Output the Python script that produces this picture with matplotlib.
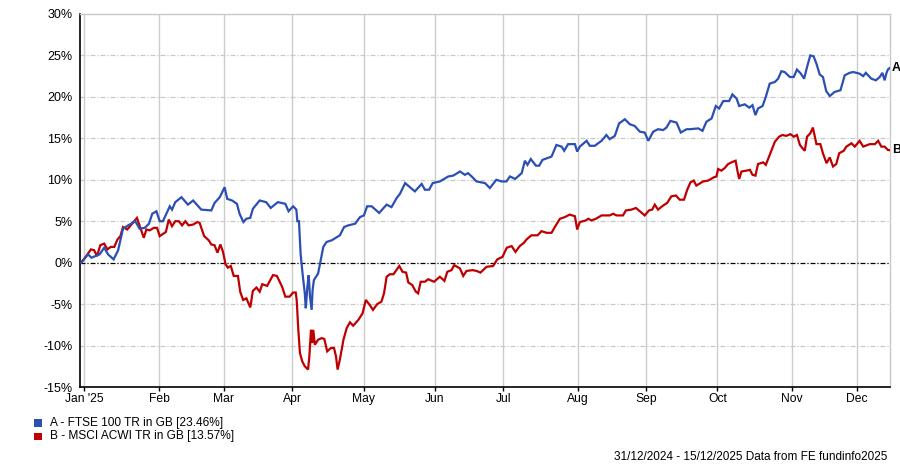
import matplotlib
matplotlib.use("Agg")
import matplotlib.pyplot as plt
from matplotlib.patches import Rectangle
import pandas as pd

plt.rcParams['font.family'] = ['Liberation Sans', 'DejaVu Sans']

# Trading-day index (weekdays from 31/12/2024) and cumulative return (%)
a_idx = [0, 2.1, 3.2, 5.7, 7.1, 8.3, 10, 11.4, 12.9, 14.5, 16.7, 18, 19.6, 20.9, 21.9, 23.2, 24.2, 25.2,
         27.3, 28, 29, 30.9, 32.9, 34.5, 37, 40.1, 41.1, 42.7, 44.2, 45, 46.5, 48, 48.8, 50, 50.9, 52.1,
         52.9, 55, 57, 58.4, 60.6, 62.9, 63.9, 65.3, 66.3, 66.6, 67.1, 67.6, 68.2, 68.9, 69.2, 69.7,
         70.1, 70.5, 71, 71.3, 71.7, 73, 73.7, 74.6, 75.6, 77.2, 79.7, 81, 82.3, 84.4, 85.9, 87.1, 88.1,
         89.5, 91.8, 94.1, 95.6, 97.2, 98.2, 99.8, 102.8, 104.9, 105.9, 107.2, 108.3, 110.5, 113.1,
         114.6, 116.7, 118.2, 119.2, 120.3, 121.8, 124.4, 125.9, 127.9, 129.5, 131, 132.1, 133.7, 135.7,
         136.7, 137.5, 138.5, 140.1, 141.1, 142.1, 144.9, 146.4, 148, 148.8, 150, 152.1, 152.8, 153.6,
         155.7, 156.7, 158.2, 160.3, 161.8, 162.8, 164.4, 165.7, 167.5, 169, 170.5, 172.1, 173.6, 174.7,
         176.2, 177.7, 179.3, 180.3, 181.5, 183.4, 184.7, 186.5, 187.5, 190.1, 191.4, 192.6, 194.2,
         195.5, 196.5, 197.8, 199.6, 200.6, 201.9, 202.7, 204.4, 205.8, 206.8, 207.7, 208.5, 209.9,
         210.9, 212.1, 213.7, 214.7, 215.7, 216.7, 218.3, 219.5, 220.5, 221.7, 222.7, 223.6, 224.6,
         225.6, 226.5, 227.5, 228.5, 229.5, 230.6, 232.1, 233.9, 235.2, 236.7, 237.8, 239.8, 240.9,
         241.7, 243.4, 244.8, 246, 246.8, 247.5, 248, 248.5, 249]
a_val = [0, 1.0, 0.6, 1.0, 1.8, 1.0, 0.4, 1.5, 4.1, 4.5, 5.0, 4.1, 4.2, 4.7, 5.9, 6.2, 5.0, 5.0,
         6.8, 6.4, 7.3, 7.9, 7.0, 7.5, 6.4, 6.3, 7.2, 7.9, 9.1, 7.7, 7.5, 7.1, 5.9, 4.9, 5.3, 5.4,
         6.5, 7.5, 7.3, 6.6, 7.3, 7.1, 6.2, 6.8, 6.4, 5.0, 5.0, 1.1, -1.3, -3.7, -5.5, -2.9,
         -1.5, -4.1, -5.7, -3.3, -2.1, -1.3, 0.1, 1.9, 2.5, 2.7, 3.3, 4.3, 4.5, 4.7, 5.5, 5.7, 6.8,
         6.8, 6.0, 7.0, 6.7, 7.8, 8.3, 9.6, 8.6, 9.5, 8.8, 8.8, 9.6, 9.8, 10.4,
         10.5, 11.0, 10.6, 10.8, 10.4, 9.8, 9.6, 9.0, 10.0, 9.8, 9.8, 10.4, 10.1, 10.8,
         12.3, 11.8, 12.5, 11.7, 11.7, 12.4, 12.8, 14.2, 14.0, 13.5, 14.3, 14.3, 13.4, 14.0,
         14.7, 14.1, 14.1, 14.7, 15.4, 14.9, 15.3, 16.8, 17.3, 16.7, 16.5, 15.8, 15.7, 14.7,
         15.8, 16.1, 16.0, 16.3, 17.1, 16.9, 15.7, 16.1, 16.1, 16.2, 15.9, 17.0, 17.4,
         18.9, 18.6, 19.5, 19.5, 20.3, 19.8, 18.9, 19.1, 18.7, 19.0, 17.8, 18.6, 18.9,
         20.0, 21.6, 21.8, 22.2, 23.1, 23.0, 22.4, 22.4, 23.3, 22.8, 22.2, 23.6, 25.0,
         24.9, 24.0, 22.7, 22.4, 20.7, 20.1, 20.6, 20.8, 22.6, 22.9, 23.0, 22.8, 22.5,
         22.9, 22.2, 22.0, 22.4, 22.9, 22.0, 22.8, 23.3, 23.46]

b_idx = [0, 1.6, 3, 4, 4.9, 5.9, 7.1, 8.1, 9.1, 10.2, 11.2, 12.1, 12.9, 14.2, 15.5, 17.2, 18, 19.3,
         20.1, 21.1, 22.4, 23.4, 24.2, 26.1, 27, 28, 29, 30.1, 31.1, 32.1, 33.1, 34.5, 35.8, 36.5,
         37.9, 39.3, 40.1, 41.1, 42, 42.9, 43.7, 44.5, 45.2, 46.1, 47, 48.3, 49, 49.9, 50.9, 52.1,
         52.9, 54, 55, 55.8, 57.3, 59.1, 60.3, 61.9, 62.9, 64.2, 65.3, 66.1, 66.4, 66.9, 67.4, 68.1,
         68.9, 69.9, 70.3, 70.8, 71.2, 71.5, 72, 73, 74.1, 74.9, 75.8, 76.9, 77.9, 78.5, 79, 79.7,
         80.8, 81.8, 82.8, 83.8, 85.4, 86.7, 87.7, 88.9, 89.9, 91.2, 92.5, 93.3, 94.1, 95.1, 96.2,
         98, 99, 100.1, 100.8, 102, 103.1, 103.8, 104.6, 105.9, 106.9, 108.7, 110.5, 111.9, 112.8,
         114.1, 114.9, 116.7, 117.7, 118.7, 120.6, 121.8, 123, 124.9, 126.9, 128.2, 129.8, 131.1,
         132.6, 133.8, 135.1, 136.4, 137.2, 138.7, 140.6, 141.8, 143.4, 144.9, 145.9, 147.5, 149,
         150.5, 152.1, 152.8, 153.6, 155.5, 156.2, 157.2, 158.6, 160.3, 162.8, 163.9, 164.9, 166.9,
         167.8, 169.5, 170.9, 172.1, 173.6, 174.9, 175.9, 176.7, 177.7, 179.3, 180.5, 181.8, 183.2,
         184.4, 185.7, 186.7, 187.7, 188.7, 189.5, 191.6, 193.1, 194.9, 195.7, 196.2, 197.2, 198.2,
         199.3, 200.3, 201.6, 202.2, 202.7, 203.4, 204.9, 206, 206.8, 207.7, 208.5, 210.1, 210.9,
         212.1, 213.7, 215, 216, 217.2, 218.5, 219.5, 220.5, 221.4, 222.2, 222.9, 223.6, 224.6,
         225.4, 226.5, 227.7, 228.5, 229.6, 230.6, 231.6, 232.6, 233.5, 234.9, 235.7, 237.3, 238.3,
         239.8, 240.9, 242.9, 244.5, 245.5, 246.5, 247.5, 248.5, 249]
b_val = [0, 0.8, 1.6, 1.5, 0.8, 2.1, 2.3, 1.6, 1.9, 1.9, 2.8, 3.2, 4.3, 4.0, 4.6, 5.4, 4.5, 3.0,
         4.0, 3.9, 4.2, 4.2, 3.2, 3.7, 5.2, 4.4, 5.0, 5.0, 4.5, 5.0, 4.5, 4.6, 4.9, 4.8,
         3.2, 2.7, 2.2, 2.1, 1.2, 2.2, 1.3, -0.2, -0.6, -0.4, -1.6, -1.6, -3.5, -4.5, -4.3, -5.4,
         -3.4, -3.0, -3.5, -2.6, -2.8, -1.5, -1.6, -2.9, -4.1, -4.1, -3.6, -3.6, -4.5, -8.1, -10.9, -11.9,
         -12.5, -12.9, -11.3, -8.1, -9.7, -8.1, -9.9, -9.3, -9.1, -9.2, -10.7, -10.3, -10.3, -11.3, -12.9, -11.7,
         -9.3, -7.9, -7.2, -7.6, -6.9, -6.1, -4.5, -5.1, -5.7, -5.0, -4.7, -3.7, -1.7, -1.4, -1.4,
         -0.4, -1.1, -1.2, -2.4, -2.7, -3.5, -3.7, -2.3, -2.3, -2.0, -2.3, -1.7, -2.2, -1.1,
         -0.9, -0.3, -0.7, -1.6, -1.0, -0.9, -1.0, -1.2, -0.5, -0.4, 0.4, 0.7, 1.8,
         2.0, 1.3, 2.0, 2.4, 2.8, 3.3, 3.3, 3.8, 3.6, 3.6, 4.3, 5.3, 5.5,
         5.8, 5.6, 4.0, 4.9, 5.1, 5.3, 5.1, 5.3, 5.7, 5.7, 5.9, 5.7, 5.7,
         6.3, 6.4, 6.6, 6.2, 5.7, 6.3, 6.4, 7.0, 6.4, 6.9, 7.2, 8.0, 8.1,
         7.6, 7.6, 8.8, 9.7, 9.9, 9.3, 9.8, 9.9, 10.3, 10.4, 11.3, 11.1, 11.4,
         11.9, 12.1, 12.3, 11.0, 10.1, 11.0, 11.1, 11.2, 10.6, 10.5, 11.9, 12.1, 11.8,
         13.0, 14.6, 15.2, 15.4, 15.3, 15.5, 15.2, 15.4, 14.2, 13.8, 13.5, 15.2, 15.6,
         16.3, 14.3, 14.3, 13.2, 12.0, 12.7, 11.6, 11.9, 13.2, 13.5, 14.0, 14.4, 14.0,
         14.7, 14.0, 14.3, 14.3, 14.7, 14.0, 14.0, 13.6, 13.57]

series_names = ["A - FTSE 100 TR in GB [23.46%]", "B - MSCI ACWI TR in GB [13.57%]"]
series_tags = ["A", "B"]
month_labels = ["Jan '25", "Feb", "Mar", "Apr", "May", "Jun", "Jul", "Aug", "Sep", "Oct", "Nov", "Dec"]
y_ticks = [-15, -10, -5, 0, 5, 10, 15, 20, 25, 30]
footer = "31/12/2024 - 15/12/2025 Data from FE fundinfo2025"

blue = "#2b4fb3"
red = "#c00000"

dates = pd.bdate_range("2024-12-31", "2025-12-15")
month_pos = []
for m in range(1, 13):
    for i, d in enumerate(dates):
        if d.year == 2025 and d.month == m:
            month_pos.append(i)
            break

W, H = 900, 467
fig = plt.figure(figsize=(W / 100, H / 100), dpi=100)
L, R, T, B = 79.5, 889.5, 14, 387
ax = fig.add_axes([L / W, 1 - B / H, (R - L) / W, (B - T) / H])

ax.set_xlim(-0.5, len(dates) - 1)
ax.set_ylim(-15, 30)

for p in month_pos:
    ax.axvline(p, color="#cccccc", lw=1, zorder=0)
for yv in y_ticks:
    if yv == 0:
        ax.axhline(0, color="black", lw=0.9, ls=(0, (4, 1.5, 1, 1.5)), zorder=1)
    elif yv != 30:
        ax.axhline(yv, color="#c8c8c8", lw=0.9, ls=(0, (4, 1.5, 1, 1.5)), zorder=0)

ax.plot(b_idx, b_val, color=red, lw=1.6, zorder=3, solid_joinstyle="miter")
ax.plot(a_idx, a_val, color=blue, lw=1.6, zorder=4, solid_joinstyle="miter")

ax.set_yticks(y_ticks)
ax.set_yticklabels([f"{v}%" for v in y_ticks])
ax.set_xticks(month_pos)
ax.set_xticklabels(month_labels)
ax.tick_params(axis="y", length=0, pad=5, labelsize=9)
ax.tick_params(axis="x", length=3, width=1, color="black", pad=1, labelsize=8.7)

for s in ["left", "bottom"]:
    ax.spines[s].set_color("black")
    ax.spines[s].set_linewidth(1.2)
for s in ["top", "right"]:
    ax.spines[s].set_color("#c8c8c8")
    ax.spines[s].set_linewidth(1)

ax.text(1.003, (a_val[-1] + 15) / 45, series_tags[0], transform=ax.transAxes,
        ha="left", va="center", fontsize=9, fontweight="bold")
ax.text(1.003, (b_val[-1] + 15) / 45, series_tags[1], transform=ax.transAxes,
        ha="left", va="center", fontsize=9, fontweight="bold")

# legend
for k, (name, col) in enumerate(zip(series_names, [blue, red])):
    yc = 423 + k * 13.5
    fig.add_artist(Rectangle((34 / W, 1 - (yc + 3.7) / H), 7.5 / W, 7.5 / H,
                             transform=fig.transFigure, facecolor=col, edgecolor="none"))
    fig.text(50 / W, 1 - yc / H, name, ha="left", va="center", fontsize=8.6)

fig.text(887 / W, 1 - 456.5 / H, footer, ha="right", va="center", fontsize=8.5)

fig.savefig("out.png", dpi=100)
